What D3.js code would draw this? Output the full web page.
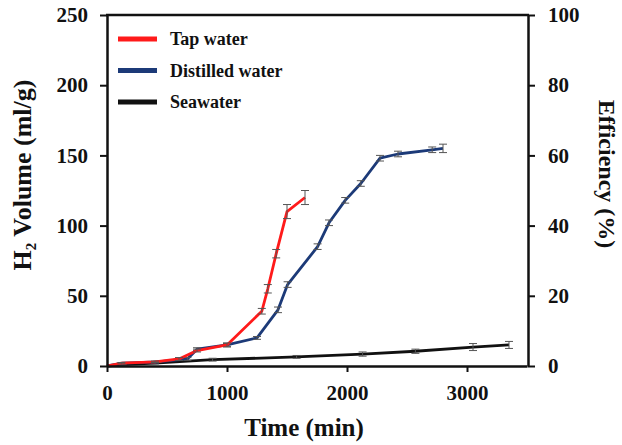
<!DOCTYPE html>
<html lang="en">
  <head>
    <meta charset="UTF-8" />
    <title>H2 volume vs time</title>
    <script src="https://d3js.org/d3.v7.min.js"></script>
    <style>
      body { margin: 0; background: #fff; }
      text { font-family: "Liberation Serif", "Times New Roman", serif; font-weight: bold; }
    </style>
  </head>
  <body>
    <svg width="622" height="445"></svg>
    <script>
      // data (time in min, volume in ml/g)
      var tapTime = [0, 120, 400, 600, 750, 1000, 1290, 1340, 1410, 1500, 1650];
      var tapVol = [0, 2, 3, 5, 11, 15, 39, 55, 80, 110, 120];
      var tapErr = [0.5, 0.5, 0.5, 1, 1, 1.5, 2, 3, 3, 5, 5];

      var distTime = [0, 130, 420, 670, 750, 1000, 1250, 1425, 1505, 1755, 1850, 1985, 2115, 2275, 2425, 2710, 2800];
      var distVol = [0, 2, 3, 5, 12, 15, 20, 40, 58, 85, 102, 118, 130, 148, 151, 154, 155];
      var distErr = [0.5, 0.5, 0.5, 1, 1, 1, 1, 2, 2, 2, 2, 2, 2, 2, 2, 2, 3];

      var seaTime = [0, 130, 400, 880, 1580, 2130, 2570, 3050, 3350];
      var seaVol = [0, 1, 2, 4.5, 6.5, 8.5, 10.5, 13.5, 15];
      var seaErr = [0.5, 0.5, 0.5, 1, 1, 1.5, 1.5, 2.5, 2.5];

      var xTicks = [0, 1000, 2000, 3000];
      var yTicks = [0, 50, 100, 150, 200, 250];
      var effTicks = [0, 20, 40, 60, 80, 100];

      var seriesNames = ["Tap water", "Distilled water", "Seawater"];
      var seriesColors = ["#ff1a1a", "#1c3a78", "#111111"];

      var svg = d3.select("svg");

      var x = d3.scaleLinear().domain([0, 3500]).range([107, 527]);
      var y = d3.scaleLinear().domain([0, 250]).range([366, 15]);
      var yEff = d3.scaleLinear().domain([0, 100]).range([366, 15]);

      var series = [
        { t: tapTime, v: tapVol, e: tapErr },
        { t: distTime, v: distVol, e: distErr },
        { t: seaTime, v: seaVol, e: seaErr }
      ].map(function (s, i) {
        return {
          name: seriesNames[i],
          color: seriesColors[i],
          pts: s.t.map(function (t, j) { return { t: t, v: s.v[j], e: s.e[j] }; })
        };
      });

      // lines
      var line = d3.line().x(function (d) { return x(d.t); }).y(function (d) { return y(d.v); });

      // draw seawater first so the others sit on top
      var order = [2, 1, 0];
      order.forEach(function (i) {
        var s = series[i];
        svg.append("path")
          .datum(s.pts)
          .attr("d", line)
          .attr("fill", "none")
          .attr("stroke", s.color)
          .attr("stroke-width", 2.8)
          .attr("stroke-linejoin", "round");

        // error bars
        var eb = svg.append("g").attr("stroke", "#555").attr("stroke-width", 1);
        s.pts.forEach(function (d) {
          if (d.t === 0) return;
          var cx = x(d.t), y1 = y(d.v + d.e), y0 = y(d.v - d.e);
          eb.append("line").attr("x1", cx).attr("x2", cx).attr("y1", y1).attr("y2", y0);
          eb.append("line").attr("x1", cx - 4).attr("x2", cx + 4).attr("y1", y1).attr("y2", y1);
          eb.append("line").attr("x1", cx - 4).attr("x2", cx + 4).attr("y1", y0).attr("y2", y0);
        });
      });

      // axes
      var axB = svg.append("g")
        .attr("transform", "translate(0,366)")
        .call(d3.axisBottom(x).tickValues(xTicks).tickFormat(d3.format("d"))
          .tickSize(6).tickSizeOuter(0).tickPadding(13));
      var axL = svg.append("g")
        .attr("transform", "translate(107,0)")
        .call(d3.axisLeft(y).tickValues(yTicks).tickSize(7).tickSizeOuter(0).tickPadding(12));
      var axR = svg.append("g")
        .attr("transform", "translate(528,0)")
        .call(d3.axisRight(yEff).tickValues(effTicks).tickSize(7).tickSizeOuter(0).tickPadding(13));

      [axB, axL, axR].forEach(function (a) {
        a.selectAll("text")
          .attr("font-size", 21)
          .attr("fill", "#111")
          .style("font-family", "'Liberation Serif', serif")
          .style("font-weight", "bold");
        a.selectAll("line").attr("stroke", "#111").attr("stroke-width", 2);
        a.select(".domain").attr("stroke", "#111").attr("stroke-width", 2.5);
      });

      // top frame line
      svg.append("line")
        .attr("x1", 106).attr("x2", 529)
        .attr("y1", 15).attr("y2", 15)
        .attr("stroke", "#111").attr("stroke-width", 2.5);

      // axis titles
      var yl = svg.append("text")
        .attr("transform", "translate(31,175) rotate(-90)")
        .attr("text-anchor", "middle")
        .attr("font-size", 26)
        .attr("fill", "#111");
      yl.append("tspan").text("H");
      yl.append("tspan").attr("font-size", 15).attr("dy", 5).text("2");
      yl.append("tspan").attr("dy", -5).text(" Volume (ml/g)");

      svg.append("text")
        .attr("x", 304).attr("y", 436)
        .attr("text-anchor", "middle")
        .attr("font-size", 25)
        .attr("fill", "#111")
        .text("Time (min)");

      svg.append("text")
        .attr("transform", "translate(599,174) rotate(90)")
        .attr("text-anchor", "middle")
        .attr("font-size", 24)
        .attr("fill", "#111")
        .text("Efficiency (%)");

      // legend
      var leg = svg.append("g");
      series.forEach(function (s, i) {
        var ly = 39 + i * 31.5;
        leg.append("line")
          .attr("x1", 118).attr("x2", 157)
          .attr("y1", ly).attr("y2", ly)
          .attr("stroke", s.color).attr("stroke-width", 5);
        leg.append("text")
          .attr("x", 170).attr("y", ly + 6)
          .attr("font-size", 18)
          .attr("fill", "#111")
          .text(s.name);
      });
    </script>
  </body>
</html>
